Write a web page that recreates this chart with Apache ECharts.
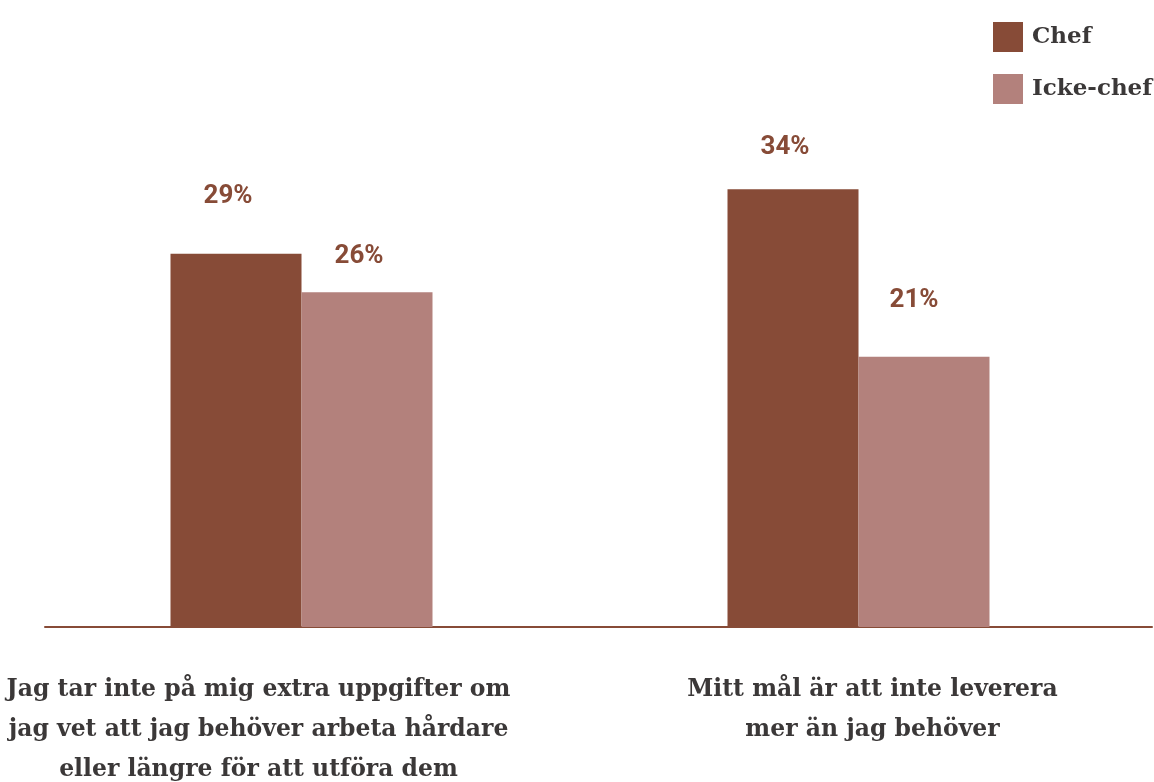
<!DOCTYPE html>
<html>
<head>
<meta charset="utf-8">
<script src="https://cdn.jsdelivr.net/npm/echarts@6/dist/echarts.min.js"></script>
<style>
  html, body { margin: 0; padding: 0; background: #fff; }
  #main { width: 1154px; height: 782px; }
</style>
</head>
<body>
<div id="main"></div>
<script>
// Data
var categories = [
	'Jag tar inte på mig extra uppgifter om\njag vet att jag behöver arbeta hårdare\neller längre för att utföra dem',
	'Mitt mål är att inte leverera\nmer än jag behöver'
];
var seriesNames = ['Chef', 'Icke-chef'];
var chefData = [29, 34];
var ickeChefData = [26, 21];

// label placement (style only)
var chefLabelOffset = [[-8, -44], [-8, -29]];
var ickeLabelOffset = [[-8, -23], [-10, -43]];
var catLabelPadding = [[0, 86, 0, 0], [0, 0, 0, 28]];

var colorChef = '#874b37';
var colorIcke = '#b3817c';
var textColor = '#3b3838';
var slab = '"DejaVu Serif", serif';

function makeData(values, offsets) {
	return values.map(function (v, i) {
		return { value: v, label: { offset: offsets[i] } };
	});
}

var myChart = echarts.init(document.getElementById('main'));

var option = {
	backgroundColor: '#fff',
	animation: false,
	legend: {
		orient: 'vertical',
		left: 988,
		top: 17,
		itemWidth: 30,
		itemHeight: 30,
		itemGap: 22,
		icon: 'rect',
		data: seriesNames,
		textStyle: {
			color: textColor,
			fontFamily: slab,
			fontWeight: 'bold',
			fontSize: 23,
			padding: [0, 0, 0, 4]
		}
	},
	grid: [{
		left: 23,
		right: 17,
		top: 112,
		bottom: 155,
		outerBoundsMode: 'none',
		containLabel: false
	}, {
		left: 45,
		right: 2,
		top: 112,
		bottom: 155,
		outerBoundsMode: 'none',
		containLabel: false
	}],
	xAxis: [{
		type: 'category',
		gridIndex: 0,
		data: categories.map(function (c, i) {
			return { value: c, textStyle: { padding: catLabelPadding[i] } };
		}),
		axisLine: { show: false },
		axisTick: { show: false },
		axisLabel: {
			interval: 0,
			margin: 43,
			color: textColor,
			fontFamily: slab,
			fontWeight: 'bold',
			fontSize: 23.5,
			lineHeight: 40
		}
	}, {
		type: 'value',
		gridIndex: 1,
		min: 0,
		max: 1,
		axisLine: { show: true, lineStyle: { color: colorChef, width: 2 } },
		axisTick: { show: false },
		axisLabel: { show: false },
		splitLine: { show: false }
	}],
	yAxis: [{
		type: 'value',
		gridIndex: 0,
		min: 0,
		max: 40,
		show: false
	}, {
		type: 'value',
		gridIndex: 1,
		min: 0,
		max: 1,
		show: false
	}],
	series: [{
		name: 'Chef',
		type: 'bar',
		barWidth: 131,
		barGap: 0,
		itemStyle: { color: colorChef },
		label: {
			show: true,
			position: 'top',
			distance: 0,
			formatter: '{c}%',
			color: colorChef,
			fontFamily: 'Roboto',
			fontWeight: 'bold',
			fontSize: 26,
			lineHeight: 26
		},
		data: makeData(chefData, chefLabelOffset)
	}, {
		name: 'Icke-chef',
		type: 'bar',
		barWidth: 131,
		barGap: 0,
		itemStyle: { color: colorIcke },
		label: {
			show: true,
			position: 'top',
			distance: 0,
			formatter: '{c}%',
			color: colorChef,
			fontFamily: 'Roboto',
			fontWeight: 'bold',
			fontSize: 26,
			lineHeight: 26
		},
		data: makeData(ickeChefData, ickeLabelOffset)
	}]
};

myChart.setOption(option);
</script>
</body>
</html>
